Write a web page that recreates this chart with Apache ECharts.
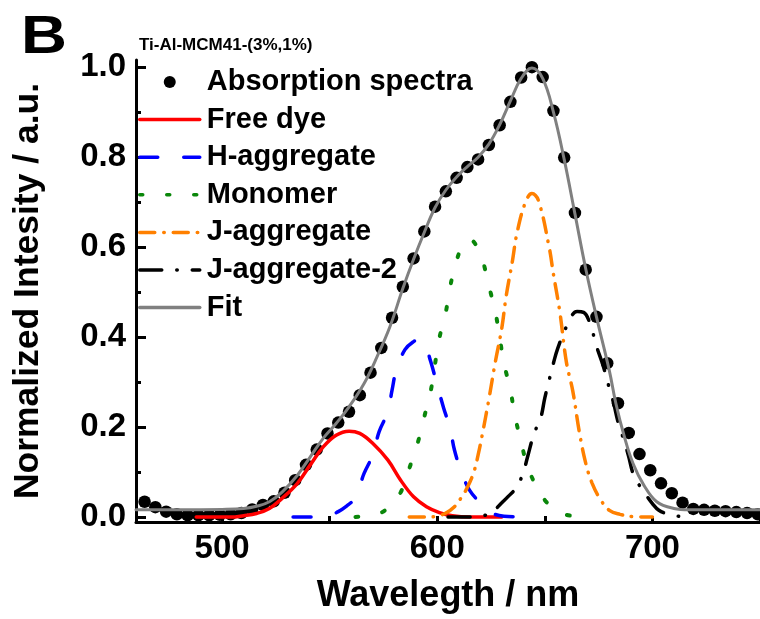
<!DOCTYPE html>
<html>
<head>
<meta charset="utf-8">
<script src="https://cdn.jsdelivr.net/npm/echarts@6/dist/echarts.min.js"></script>
<style>
  html, body { margin: 0; padding: 0; background: #fff; }
  #chart { width: 760px; height: 619px; }
</style>
</head>
<body>
<div id="chart"></div>
<script>
// measured absorption (dots), 5 nm step
var absWl = [464, 469, 474, 479, 484, 489, 494, 499, 504, 509, 514, 519, 524, 529, 534, 539, 544, 549, 554, 559,
  564, 569, 574, 579, 584, 589, 594, 599, 604, 609, 614, 619, 624, 629, 634, 639, 644, 649, 654, 659,
  664, 669, 674, 679, 684, 689, 694, 699, 704, 709, 714, 719, 724, 729, 734, 739, 744, 749];
var absVal = [0.034, 0.022, 0.012, 0.006, 0.004, 0.004, 0.004, 0.005, 0.006, 0.009, 0.017, 0.027, 0.035, 0.054, 0.082, 0.116, 0.150, 0.186, 0.210, 0.234,
  0.271, 0.321, 0.376, 0.443, 0.512, 0.575, 0.635, 0.690, 0.724, 0.754, 0.778, 0.795, 0.827, 0.871, 0.923, 0.977, 1.000, 0.978, 0.903, 0.799,
  0.676, 0.550, 0.445, 0.342, 0.253, 0.187, 0.140, 0.104, 0.075, 0.053, 0.032, 0.018, 0.016, 0.014, 0.013, 0.011, 0.009, 0.006];

// fitted components
var freeWl  = [488, 504, 510, 516, 522, 528, 535, 541, 547, 553, 559, 564, 570, 577, 583, 589, 595, 601, 607, 615, 630];
var freeVal = [0, 0, 0.003, 0.008, 0.019, 0.042, 0.075, 0.116, 0.156, 0.182, 0.191, 0.186, 0.164, 0.127, 0.082, 0.045, 0.023, 0.010, 0.003, 0, 0];

var hWl  = [533, 546, 550, 554, 558, 561, 564, 566, 570, 573, 577, 579, 581, 585, 589, 592, 594, 597, 600, 603, 606, 608, 611, 615, 621, 625, 631, 642];
var hVal = [0, 0, 0.004, 0.012, 0.025, 0.038, 0.07, 0.097, 0.138, 0.19, 0.234, 0.282, 0.327, 0.372, 0.39, 0.395, 0.388, 0.345, 0.293, 0.242, 0.197, 0.149, 0.104, 0.06, 0.027, 0.01, 0.002, 0];

var monoWl  = [562, 568, 574, 578, 583, 587, 591, 594, 597, 599, 601, 604, 606, 609, 612, 615, 618, 621, 624, 627, 629, 631, 634, 636, 639, 642, 647, 651, 655, 660, 667];
var monoVal = [0, 0.004, 0.01, 0.025, 0.055, 0.108, 0.166, 0.223, 0.281, 0.341, 0.398, 0.456, 0.512, 0.57, 0.605, 0.617, 0.605, 0.572, 0.514, 0.456, 0.4, 0.342, 0.283, 0.227, 0.167, 0.112, 0.06, 0.032, 0.016, 0.005, 0];

var jWl  = [587, 595, 600, 604, 608, 611, 614, 617, 619, 621, 624, 627, 630, 632, 635, 637, 641, 644, 647, 652, 654, 657, 660, 663, 666, 669, 672, 676, 680, 685, 691, 700];
var jVal = [0, 0, 0.002, 0.009, 0.023, 0.042, 0.066, 0.1, 0.138, 0.185, 0.262, 0.345, 0.42, 0.49, 0.571, 0.63, 0.7, 0.719, 0.704, 0.6, 0.54, 0.455, 0.345, 0.28, 0.19, 0.12, 0.075, 0.038, 0.015, 0.006, 0.001, 0];

var j2Wl  = [605, 617, 621, 625, 629, 633, 637, 640, 642, 645, 648, 650, 652, 654, 656, 660, 663, 665, 668, 671, 674, 677, 680, 682, 684, 687, 689, 691, 694, 696, 700, 703, 707, 712, 717];
var j2Val = [0, 0, 0.003, 0.008, 0.027, 0.046, 0.067, 0.1, 0.134, 0.186, 0.219, 0.265, 0.304, 0.342, 0.375, 0.423, 0.451, 0.457, 0.455, 0.43, 0.38, 0.338, 0.286, 0.253, 0.212, 0.167, 0.134, 0.097, 0.07, 0.056, 0.03, 0.015, 0.007, 0.002, 0];

var fitWl  = [460, 480, 500, 510, 516, 522, 528, 535, 541, 547, 553, 559, 566, 572, 578, 584, 589, 594, 599, 604, 609, 614, 619, 624, 629, 634, 639, 644,
  649, 654, 659, 664, 669, 674, 680, 683, 687, 691, 696, 702, 710, 717, 730, 750];
var fitVal = [0.016, 0.016, 0.017, 0.019, 0.024, 0.034, 0.056, 0.093, 0.134, 0.175, 0.208, 0.245, 0.297, 0.356, 0.423, 0.508, 0.573, 0.633, 0.688, 0.727, 0.756, 0.779, 0.8, 0.829, 0.872, 0.925, 0.975, 0.998,
  0.975, 0.9, 0.795, 0.674, 0.552, 0.445, 0.325, 0.253, 0.178, 0.119, 0.071, 0.034, 0.019, 0.016, 0.016, 0.016];

var xLabels = [500, 600, 700];
var xTicks = [500, 550, 600, 650, 700, 750];
var yLabels = [0, 0.2, 0.4, 0.6, 0.8, 1.0];
var yMinorTicks = [0.1, 0.3, 0.5, 0.7, 0.9];

function pairs(xs, ys) {
  return xs.map(function (x, i) { return [x, ys[i]]; });
}

var FONT = "Liberation Sans";

function curve(name, xs, ys, color, type, width) {
  return {
    name: name,
    type: "line",
    data: pairs(xs, ys),
    symbol: "none",
    smooth: 0.4,
    lineStyle: { color: color, width: width, type: type, cap: "round" },
    itemStyle: { color: color }
  };
}

// legend: the line entries show only their line, no marker
function lineEntry(name) {
  return { name: name, itemStyle: { opacity: 0 } };
}

var option = {
  backgroundColor: "#fff",
  animation: false,
  title: {
    text: "Ti-Al-MCM41-(3%,1%)", left: 139, top: 37, padding: 0,
    textStyle: { fontFamily: FONT, fontWeight: "bold", fontSize: 17, color: "#000" }
  },
  graphic: [{
    type: "text", left: 21, top: 12, scaleX: 1.2,
    style: { text: "B", font: "bold 53px 'Liberation Sans'", fill: "#000" }
  }],
  legend: {
    orient: "vertical",
    left: 138,
    top: 67,
    padding: 0,
    itemWidth: 60,
    itemHeight: 12,
    itemGap: 7.6,
    selectedMode: false,
    lineStyle: { width: 3.5 },
    textStyle: { fontFamily: FONT, fontWeight: "bold", fontSize: 29, lineHeight: 30, color: "#000", padding: [0, 0, 0, 2] },
    data: [
      { name: "Absorption spectra" },
      lineEntry("Free dye"),
      lineEntry("H-aggregate"),
      lineEntry("Monomer"),
      lineEntry("J-aggregate"),
      lineEntry("J-aggregate-2"),
      lineEntry("Fit")
    ]
  },
  grid: { left: 136, right: 0, top: 60, bottom: 97 },
  xAxis: {
    type: "value",
    min: 460,
    max: 750,
    name: "Wavelegth / nm",
    nameLocation: "middle",
    nameGap: 56,
    nameTextStyle: { fontFamily: FONT, fontWeight: "bold", fontSize: 36, color: "#000" },
    axisLine: { show: true, onZero: false, lineStyle: { color: "#000", width: 3 } },
    axisTick: { show: true, inside: true, length: 6, customValues: xTicks, lineStyle: { color: "#000", width: 3 } },
    axisLabel: { customValues: xLabels, margin: 10, fontFamily: FONT, fontWeight: "bold", fontSize: 33, color: "#000" },
    splitLine: { show: false }
  },
  yAxis: [
    {
      type: "value",
      min: -0.011,
      max: 1.016,
      name: "Normalized Intesity / a.u.",
      nameLocation: "middle",
      nameGap: 90,
      nameTextStyle: { fontFamily: FONT, fontWeight: "bold", fontSize: 35.5, color: "#000" },
      axisLine: { show: true, onZero: false, lineStyle: { color: "#000", width: 3 } },
      axisTick: { show: true, inside: true, length: 10, customValues: yLabels, lineStyle: { color: "#000", width: 3 } },
      axisLabel: {
        customValues: yLabels, margin: 10, fontFamily: FONT, fontWeight: "bold", fontSize: 33, color: "#000",
        formatter: function (v) { return v.toFixed(1); }
      },
      splitLine: { show: false }
    },
    {
      type: "value",
      min: -0.011,
      max: 1.016,
      position: "left",
      axisLine: { show: false },
      axisTick: { show: true, inside: true, length: 5, customValues: yMinorTicks, lineStyle: { color: "#000", width: 3 } },
      axisLabel: { show: false },
      splitLine: { show: false }
    }
  ],
  series: [
    {
      name: "Absorption spectra",
      type: "scatter",
      data: pairs(absWl, absVal),
      symbol: "circle",
      symbolSize: 12.5,
      itemStyle: { color: "#000", opacity: 1 }
    },
    curve("Free dye", freeWl, freeVal, "#ff0000", "solid", 3.5),
    curve("H-aggregate", hWl, hVal, "#0000ff", [18, 26], 3.5),
    curve("Monomer", monoWl, monoVal, "#0a870a", [3, 24], 4),
    curve("J-aggregate", jWl, jVal, "#ff8000", [15, 9, 0.5, 9], 3.5),
    curve("J-aggregate-2", j2Wl, j2Val, "#000000", [22, 15, 0.5, 15], 3.5),
    curve("Fit", fitWl, fitVal, "#808080", "solid", 3)
  ]
};

var chart = echarts.init(document.getElementById("chart"));
chart.setOption(option);
window.addEventListener("resize", function () { chart.resize(); });
</script>
</body>
</html>
